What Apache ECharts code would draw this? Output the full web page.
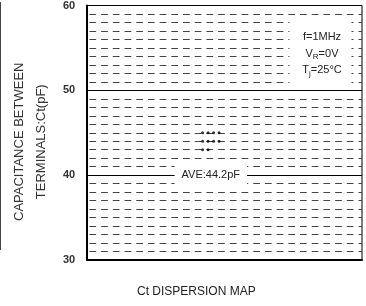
<!DOCTYPE html>
<html>
<head>
<meta charset="utf-8">
<style>
  html, body { margin: 0; padding: 0; background: #fff; }
  #chart { width: 366px; height: 306px; }
</style>
<script src="https://cdn.jsdelivr.net/npm/echarts@6/dist/echarts.min.js"></script>
</head>
<body>
<div id="chart"></div>
<script>
// measured capacitance of each sample (pF), and where its dot sits along the map
const sampleCt = [45, 45, 45, 45, 44, 44, 44, 44, 43, 43];
const samplePos = [42, 44, 46, 48, 42, 44, 46, 48, 42, 44];
const conditions = ['f=1MHz', 'V{s|R}=0V', 'T{s|j}=25°C'];

const FONT = 'Liberation Sans, Arial, sans-serif';

const ave = sampleCt.reduce((a, b) => a + b, 0) / sampleCt.length;
const points = sampleCt.map((v, i) => [samplePos[i], v]);

const chart = echarts.init(document.getElementById('chart'), null, { renderer: 'canvas' });

chart.setOption({
    animation: false,
    title: {
        text: 'Ct DISPERSION MAP',
        left: 137,
        top: 286,
        padding: 0,
        textStyle: { color: '#222', fontSize: 12, fontWeight: 'normal', fontFamily: FONT }
    },
    grid: {
        show: true,
        left: 86,
        right: 4,
        top: 5,
        bottom: 46,
        borderColor: '#000',
        borderWidth: 1,
        containLabel: false
    },
    xAxis: {
        type: 'value',
        min: 0,
        max: 100,
        axisLine: { show: true, lineStyle: { color: '#000', width: 2 } },
        axisTick: { show: false },
        axisLabel: { show: false },
        splitLine: { show: false }
    },
    yAxis: {
        type: 'value',
        min: 30,
        max: 60,
        interval: 10,
        name: 'CAPACITANCE BETWEEN\nTERMINALS:Ct(pF)',
        nameLocation: 'middle',
        nameRotate: 90,
        nameGap: 31,
        nameTextStyle: {
            color: '#333',
            fontSize: 13,
            fontFamily: FONT,
            lineHeight: 22,
            align: 'center',
            padding: [0, 18, 0, 0]
        },
        axisLine: { show: true, lineStyle: { color: '#000', width: 2 } },
        axisTick: { show: false },
        axisLabel: {
            color: '#333',
            fontSize: 11,
            fontWeight: 'bold',
            fontFamily: FONT,
            margin: 12
        },
        splitLine: { show: true, lineStyle: { color: '#000', width: 1 } },
        minorTick: { show: false, splitNumber: 10 },
        minorSplitLine: {
            show: true,
            lineStyle: { color: '#444', width: 1, type: [6.7, 5], dashOffset: 9.4 }
        }
    },
    series: [
        {
            type: 'scatter',
            data: points,
            symbol: 'circle',
            symbolSize: 3,
            itemStyle: { color: '#000' },
            z: 5,
            markPoint: {
                symbol: 'rect',
                symbolSize: 0,
                silent: true,
                data: [{ coord: [45, 40] }],
                label: {
                    show: true,
                    position: 'inside',
                    formatter: () => 'AVE:' + ave.toFixed(1) + 'pF',
                    color: '#222',
                    fontSize: 11,
                    fontFamily: FONT,
                    backgroundColor: '#fff',
                    padding: [7, 7]
                }
            }
        }
    ],
    graphic: [
        {
            type: 'line',
            shape: { x1: 0.5, y1: 2, x2: 0.5, y2: 250 },
            style: { stroke: '#444', lineWidth: 1 }
        },
        {
            type: 'rect',
            z: 100,
            shape: { x: 289.5, y: 17, width: 62, height: 69 },
            style: { fill: '#fff' }
        },
        ...conditions.map((t, i) => ({
            type: 'text',
            z: 101,
            x: 322,
            y: 37 + i * 16.7,
            style: {
                text: t,
                fill: '#222',
                fontSize: 11,
                fontFamily: FONT,
                align: 'center',
                verticalAlign: 'middle',
                rich: {
                    s: { fontSize: 8, fill: '#222', fontFamily: FONT, verticalAlign: 'bottom', lineHeight: 14 }
                }
            }
        }))
    ]
});
</script>
</body>
</html>
